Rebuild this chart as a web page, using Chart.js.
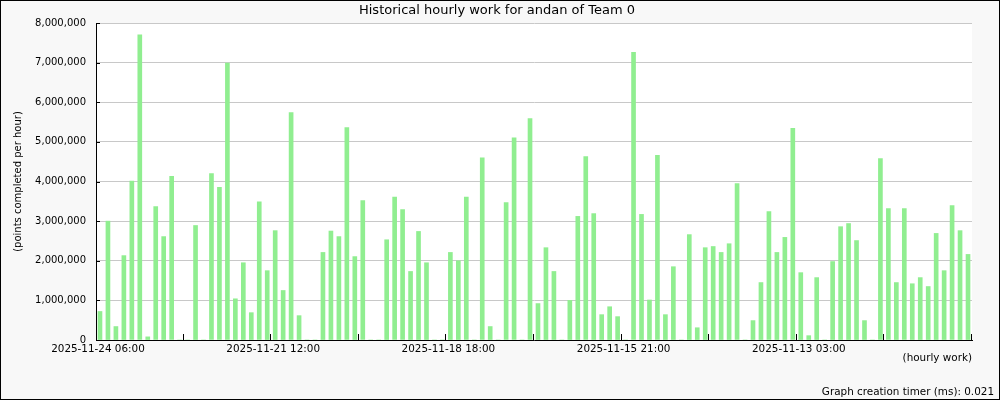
<!DOCTYPE html>
<html>
<head>
<meta charset="utf-8">
<script src="https://cdn.jsdelivr.net/npm/chart.js@4/dist/chart.umd.min.js"></script>
<style>
    body { margin: 0; }
    #wrap { width: 1000px; height: 400px; }
</style>
</head>
<body>
<div id="wrap"><canvas id="workChart"></canvas></div>
<script>
// hourly work, newest on the left (points per hour)
const workValues = [
    720000, 3000000, 340000, 2130000, 4010000, 7700000, 80000, 3370000, 2610000, 4130000,
    0, 0, 2890000, 0, 4200000, 3850000, 6990000, 1040000, 1950000, 690000,
    3490000, 1750000, 2760000, 1250000, 5740000, 615000, 0, 0, 2210000, 2750000,
    2610000, 5360000, 2105000, 3520000, 0, 0, 2530000, 3610000, 3290000, 1730000,
    2740000, 1950000, 0, 0, 2210000, 2000000, 3610000, 0, 4600000, 340000,
    0, 3470000, 5100000, 0, 5590000, 920000, 2330000, 1730000, 0, 1000000,
    3120000, 4630000, 3190000, 640000, 840000, 590000, 0, 7260000, 3170000, 1010000,
    4660000, 640000, 1850000, 0, 2660000, 310000, 2330000, 2360000, 2210000, 2430000,
    3950000, 0, 490000, 1450000, 3240000, 2210000, 2590000, 5340000, 1700000, 110000,
    1575000, 0, 1980000, 2860000, 2940000, 2510000, 490000, 0, 4580000, 3320000,
    1450000, 3320000, 1420000, 1575000, 1350000, 2690000, 1750000, 3390000, 2760000, 2160000
];

const xTickLabels = ['2025-11-24 06:00', '2025-11-21 12:00', '2025-11-18 18:00', '2025-11-15 21:00', '2025-11-13 03:00'];
const labelEvery = 22;   // one date label every 22 slots
const tickEvery = 11;    // tick mark every 11 slots

const categories = workValues.map((v, i) => i % labelEvery === 0 ? xTickLabels[i / labelEvery] : '');

Chart.defaults.font.family = 'DejaVu Sans';
Chart.defaults.color = '#000';

// background, inner tick marks and outer frame
const frame = {
    id: 'frame',
    beforeDraw(chart) {
        const { ctx, chartArea: a, width, height } = chart;
        ctx.save();
        ctx.fillStyle = '#f8f8f8';
        ctx.fillRect(0, 0, width, height);
        ctx.fillStyle = '#ffffff';
        ctx.fillRect(a.left, a.top, a.right - a.left, a.bottom - a.top);
        ctx.restore();
    },
    afterDraw(chart) {
        const { ctx, chartArea: a, width, height } = chart;
        const x = chart.scales.x, y = chart.scales.y;
        ctx.save();
        ctx.strokeStyle = '#000';
        ctx.lineWidth = 1;
        ctx.beginPath();
        y.ticks.forEach(t => {
            const py = Math.round(y.getPixelForValue(t.value)) + 0.5;
            ctx.moveTo(a.left, py);
            ctx.lineTo(a.left + 4, py);
        });
        const half = (x.getPixelForValue(1) - x.getPixelForValue(0)) / 2;
        for (let i = tickEvery; i <= categories.length; i += tickEvery) {
            const px = Math.round(x.getPixelForValue(i) - half) - 0.5;
            ctx.moveTo(px, a.bottom);
            ctx.lineTo(px, a.bottom - 6);
        }
        ctx.stroke();
        ctx.strokeRect(0.5, 0.5, width - 1, height - 1);
        ctx.restore();
    }
};

new Chart(document.getElementById('workChart'), {
    type: 'bar',
    data: {
        labels: categories,
        datasets: [{
            data: workValues,
            backgroundColor: '#90ee90',
            borderWidth: 0,
            barThickness: 4
        }]
    },
    options: {
        responsive: true,
        maintainAspectRatio: false,
        animation: false,
        layout: { padding: { left: 0, right: 6, top: 0, bottom: 0 } },
        plugins: {
            legend: { display: false },
            tooltip: { enabled: false },
            title: {
                display: true,
                text: 'Historical hourly work for andan of Team 0',
                color: '#000',
                font: { size: 13, weight: 'normal' },
                padding: { top: 2.5, bottom: 4.9 }
            },
            subtitle: {
                display: true,
                position: 'bottom',
                align: 'end',
                text: 'Graph creation timer (ms): 0.021',
                color: '#000',
                font: { size: 10.4, weight: 'normal' },
                padding: { top: 0, bottom: 1.5 }
            }
        },
        scales: {
            x: {
                ticks: { autoSkip: false, maxRotation: 0, minRotation: 0, padding: 3, labelOffset: -2, font: { size: 10.4 } },
                grid: { display: false, drawTicks: false },
                border: { display: true, color: '#000' },
                title: {
                    display: true,
                    text: '(hourly work)',
                    align: 'end',
                    font: { size: 10.4 },
                    padding: { top: 0, bottom: 21.8 }
                },
                afterFit: s => { s.height = 46; }
            },
            y: {
                min: 0,
                max: 8000000,
                ticks: {
                    stepSize: 1000000,
                    padding: 10,
                    font: { size: 10 },
                    callback: v => v.toLocaleString('en-US')
                },
                grid: { color: '#c8c8c8', drawTicks: false },
                border: { color: '#000' },
                title: {
                    display: true,
                    text: '(points completed per hour)',
                    font: { size: 10 },
                    padding: { top: 12, bottom: 0 }
                },
                afterFit: s => { s.width = 96; }
            },
            y2: {
                position: 'right',
                ticks: { display: false },
                grid: { display: false, drawTicks: false },
                border: { display: false },
                afterFit: s => { s.width = 22; }
            }
        }
    },
    plugins: [frame]
});
</script>
</body>
</html>
